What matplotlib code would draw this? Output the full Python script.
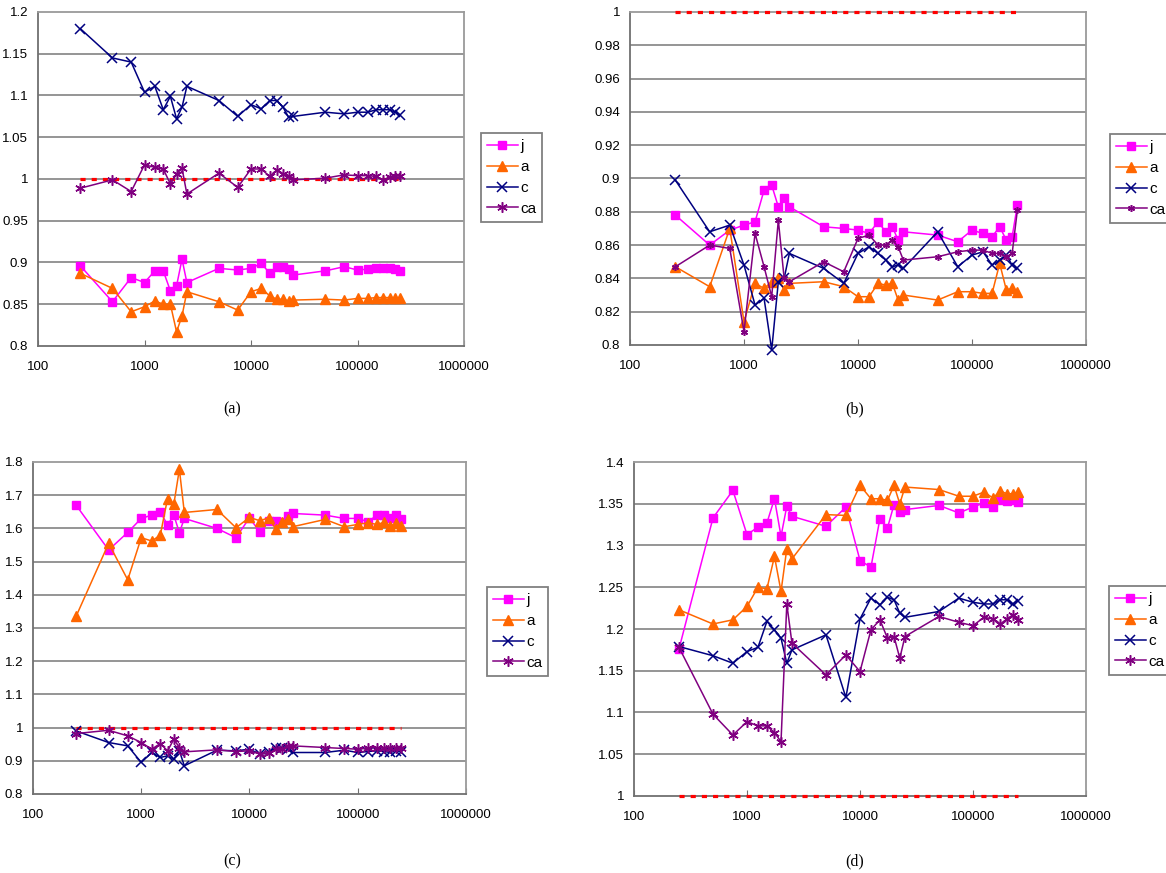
import numpy as np
import matplotlib
matplotlib.use("Agg")
import matplotlib.pyplot as plt
from matplotlib import font_manager
from matplotlib.ticker import FixedLocator, FuncFormatter, NullLocator

# ---------------------------------------------------------------
# Data: ratio vs. sample size, four panels, four series each
# ---------------------------------------------------------------
sizes = [250, 500, 750, 1000, 1250, 1500, 1750, 2000, 2250, 2500,
         5000, 7500, 10000, 12500, 15000, 17500, 20000, 22500, 25000,
         50000, 75000, 100000, 125000, 150000, 175000, 200000, 225000, 250000]
baseline = [1.0] * len(sizes)

a_j = [0.896, 0.853, 0.882, 0.876, 0.890, 0.890, 0.866, 0.872, 0.904, 0.876,
       0.893, 0.891, 0.893, 0.899, 0.887, 0.895, 0.895, 0.892, 0.885,
       0.890, 0.895, 0.891, 0.892, 0.893, 0.894, 0.893, 0.892, 0.890]
a_a = [0.887, 0.869, 0.841, 0.847, 0.854, 0.850, 0.850, 0.817, 0.836, 0.865,
       0.853, 0.843, 0.865, 0.869, 0.860, 0.856, 0.856, 0.854, 0.855,
       0.856, 0.855, 0.857, 0.857, 0.858, 0.858, 0.858, 0.857, 0.858]
a_c = [1.180, 1.145, 1.140, 1.104, 1.111, 1.083, 1.099, 1.072, 1.086, 1.111,
       1.094, 1.075, 1.089, 1.084, 1.094, 1.094, 1.086, 1.074, 1.075,
       1.080, 1.078, 1.080, 1.080, 1.083, 1.083, 1.083, 1.080, 1.077]
a_ca = [0.989, 0.999, 0.985, 1.017, 1.014, 1.012, 0.994, 1.006, 1.013, 0.982,
        1.007, 0.990, 1.012, 1.012, 1.003, 1.011, 1.006, 1.003, 0.999,
        1.001, 1.005, 1.004, 1.004, 1.003, 0.999, 1.002, 1.004, 1.004]

b_j = [0.878, 0.860, 0.869, 0.872, 0.874, 0.893, 0.896, 0.883, 0.888, 0.883,
       0.871, 0.870, 0.869, 0.867, 0.874, 0.868, 0.871, 0.863, 0.868,
       0.866, 0.862, 0.869, 0.867, 0.865, 0.871, 0.863, 0.865, 0.884]
b_a = [0.847, 0.835, 0.870, 0.814, 0.837, 0.834, 0.838, 0.840, 0.833, 0.837,
       0.838, 0.835, 0.829, 0.829, 0.837, 0.836, 0.837, 0.827, 0.830,
       0.827, 0.832, 0.832, 0.831, 0.831, 0.849, 0.833, 0.834, 0.832]
b_c = [0.899, 0.868, 0.872, 0.848, 0.824, 0.828, 0.797, 0.838, 0.840, 0.855,
       0.846, 0.837, 0.855, 0.859, 0.855, 0.851, 0.847, 0.848, 0.846,
       0.868, 0.847, 0.854, 0.856, 0.848, 0.851, 0.854, 0.848, 0.846]
b_ca = [0.847, 0.860, 0.858, 0.808, 0.867, 0.847, 0.829, 0.875, 0.840, 0.838,
        0.850, 0.844, 0.864, 0.866, 0.860, 0.860, 0.863, 0.859, 0.851,
        0.853, 0.856, 0.857, 0.857, 0.855, 0.855, 0.853, 0.855, 0.881]

c_j = [1.670, 1.535, 1.588, 1.630, 1.640, 1.650, 1.610, 1.640, 1.587, 1.630,
       1.600, 1.572, 1.632, 1.588, 1.622, 1.622, 1.620, 1.637, 1.645,
       1.640, 1.630, 1.630, 1.620, 1.640, 1.640, 1.630, 1.640, 1.628]
c_a = [1.335, 1.555, 1.445, 1.572, 1.562, 1.580, 1.690, 1.673, 1.778, 1.648,
       1.657, 1.602, 1.633, 1.623, 1.632, 1.598, 1.620, 1.627, 1.605,
       1.627, 1.605, 1.612, 1.617, 1.612, 1.618, 1.607, 1.615, 1.607]
c_c = [0.990, 0.955, 0.945, 0.895, 0.925, 0.910, 0.915, 0.905, 0.930, 0.885,
       0.932, 0.930, 0.935, 0.920, 0.925, 0.940, 0.940, 0.935, 0.925,
       0.925, 0.932, 0.925, 0.928, 0.930, 0.928, 0.925, 0.930, 0.928]
c_ca = [0.982, 0.992, 0.975, 0.955, 0.935, 0.952, 0.930, 0.965, 0.940, 0.927,
        0.933, 0.928, 0.930, 0.920, 0.922, 0.935, 0.935, 0.945, 0.945,
        0.940, 0.937, 0.935, 0.938, 0.940, 0.938, 0.940, 0.940, 0.940]

d_j = [1.176, 1.333, 1.366, 1.313, 1.322, 1.327, 1.356, 1.311, 1.347, 1.335,
       1.323, 1.346, 1.282, 1.274, 1.332, 1.321, 1.349, 1.340, 1.343,
       1.348, 1.339, 1.346, 1.351, 1.346, 1.355, 1.353, 1.354, 1.352]
d_a = [1.223, 1.206, 1.211, 1.227, 1.250, 1.248, 1.287, 1.245, 1.296, 1.284,
       1.337, 1.336, 1.372, 1.356, 1.356, 1.354, 1.372, 1.350, 1.370,
       1.367, 1.359, 1.359, 1.364, 1.357, 1.365, 1.362, 1.362, 1.364]
d_c = [1.179, 1.168, 1.159, 1.173, 1.178, 1.209, 1.199, 1.189, 1.159, 1.175,
       1.193, 1.118, 1.212, 1.237, 1.229, 1.238, 1.235, 1.219, 1.214,
       1.221, 1.237, 1.232, 1.230, 1.230, 1.235, 1.235, 1.230, 1.234]
d_ca = [1.178, 1.098, 1.073, 1.089, 1.084, 1.084, 1.076, 1.065, 1.230, 1.183,
        1.145, 1.169, 1.149, 1.199, 1.211, 1.189, 1.191, 1.165, 1.191,
        1.215, 1.208, 1.204, 1.214, 1.212, 1.206, 1.212, 1.217, 1.211]

series_names = ["j", "a", "c", "ca"]
x_ticks = [100, 1000, 10000, 100000, 1000000]

# ---------------------------------------------------------------
# Styles
# ---------------------------------------------------------------
STYLES = {
    "j": dict(color="#FF00FF", marker="s", markersize=5.7, mec="#FF00FF"),
    "a": dict(color="#FF6600", marker="^", markersize=6.7, mec="#FF6600"),
    "c": dict(color="#000080", marker="x", markersize=7.2, mew=1.1),
    "ca": dict(color="#800080", marker=(6, 2, 0), markersize=7.5, mew=1.1),
}

_installed = {f.name for f in font_manager.fontManager.ttflist}
TICK_FONT = "Liberation Sans Narrow" if "Liberation Sans Narrow" in _installed else "Liberation Sans"
CAPTION_FONT = "Liberation Serif"

W, H = 1166, 873
fig = plt.figure(figsize=(W / 100, H / 100), dpi=100)


def add_panel(box, data, yticks, legend_xy, caption, caption_xy, ca_size=7.5):
    left, top, right, bottom = box
    ax = fig.add_axes([left / W, 1 - bottom / H, (right - left) / W, (bottom - top) / H])
    ax.set_xscale("log")
    ax.set_xlim(100, 1000000)
    ax.set_ylim(yticks[0], yticks[-1])

    for y in yticks[1:-1]:
        ax.axhline(y, color="#8c8c8c", lw=1.3, zorder=0)

    # reference level drawn above the frame so it stays visible on the border
    ax.plot(sizes, baseline, color="#FF0000", lw=2.3, ls=(0, (1.6, 1.9)),
            zorder=2.6, clip_on=False)
    handles = []
    for name, vals in zip(series_names, data):
        st = dict(STYLES[name])
        if name == "ca":
            st["markersize"] = ca_size
        h, = ax.plot(sizes, vals, lw=1.1, label=name, zorder=3, clip_on=False, **st)
        handles.append(h)

    for side in ("top", "right"):
        ax.spines[side].set_color("#9a9a9a")
        ax.spines[side].set_linewidth(1.3)
    for side in ("left", "bottom"):
        ax.spines[side].set_color("#707070")
        ax.spines[side].set_linewidth(1.3)

    ax.xaxis.set_major_locator(FixedLocator(x_ticks))
    ax.xaxis.set_minor_locator(NullLocator())
    ax.xaxis.set_major_formatter(FuncFormatter(lambda v, p: f"{int(round(v))}"))
    ax.yaxis.set_major_locator(FixedLocator(yticks))
    ax.yaxis.set_major_formatter(FuncFormatter(lambda v, p: f"{round(v, 4):g}"))
    ax.tick_params(axis="x", direction="in", length=4, color="#707070", pad=11)
    ax.tick_params(axis="y", length=0, pad=7)
    for lab in ax.get_xticklabels() + ax.get_yticklabels():
        lab.set_fontfamily(TICK_FONT)
        lab.set_fontsize(9.5)

    leg = ax.legend(handles=handles, loc="upper left",
                    bbox_to_anchor=(legend_xy[0] / W, 1 - legend_xy[1] / H),
                    bbox_transform=fig.transFigure, frameon=True, fancybox=False,
                    edgecolor="#808080", framealpha=1, borderpad=0.4,
                    labelspacing=0.45, handlelength=2.0, handletextpad=0.15,
                    borderaxespad=0, prop={"family": TICK_FONT, "size": 11})
    leg.get_frame().set_linewidth(1.3)

    fig.text(caption_xy[0] / W, 1 - caption_xy[1] / H, caption, ha="center",
             va="center", family=CAPTION_FONT, fontsize=11.5)
    return ax


add_panel((38, 12, 464, 346), [a_j, a_a, a_c, a_ca],
          [0.8, 0.85, 0.9, 0.95, 1.0, 1.05, 1.1, 1.15, 1.2],
          (481, 133), "(a)", (232, 409))
add_panel((630, 12, 1086, 345), [b_j, b_a, b_c, b_ca],
          [0.8, 0.82, 0.84, 0.86, 0.88, 0.9, 0.92, 0.94, 0.96, 0.98, 1.0],
          (1110, 134), "(b)", (855, 409), ca_size=5)
add_panel((33, 462, 466, 794), [c_j, c_a, c_c, c_ca],
          [0.8, 0.9, 1.0, 1.1, 1.2, 1.3, 1.4, 1.5, 1.6, 1.7, 1.8],
          (487, 587), "(c)", (232, 861))
add_panel((634, 462, 1086, 796), [d_j, d_a, d_c, d_ca],
          [1.0, 1.05, 1.1, 1.15, 1.2, 1.25, 1.3, 1.35, 1.4],
          (1109, 586), "(d)", (855, 861))

fig.savefig("out.png", dpi=100)
